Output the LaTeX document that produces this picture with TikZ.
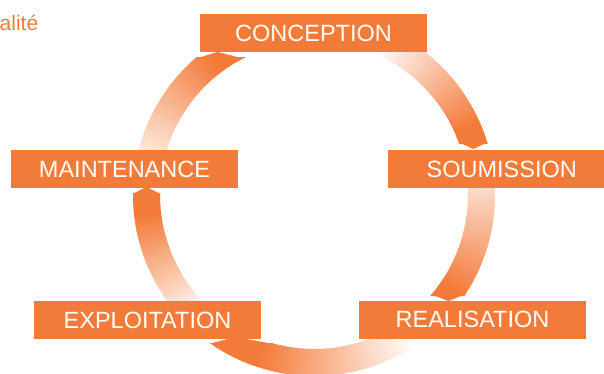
\documentclass[tikz,border=0pt]{standalone}
\usepackage{fontspec}
\setmainfont{Liberation Sans}
\definecolor{cyc}{RGB}{243,123,58}
\tikzset{
  stagebox/.style={fill=cyc, text=white, minimum width=227pt, minimum height=38pt,
    inner sep=0pt, text height=16.8pt, text depth=0pt, font=\fontsize{23.5}{23.5}\selectfont},
  tipfill/.style={fill=cyc},
}
% Ring band (radii 154pt to 181pt) from angle #1 to angle #4, shaded from
% white (at angle #2) to full orange (at angle #3), built from thin sectors.
\newcommand{\cyclearc}[4]{%
  \foreach \k in {0,...,71}{%
    \pgfmathsetmacro{\ta}{#1+(#4-(#1))*\k/72}%
    \pgfmathsetmacro{\tb}{#1+(#4-(#1))*(\k+1.5)/72}%
    \pgfmathsetmacro{\tm}{#1+(#4-(#1))*(\k+0.5)/72}%
    \pgfmathtruncatemacro{\pc}{max(0,min(100,100*(\tm-(#2))/((#3)-(#2))))}%
    \fill[cyc!\pc!white] (\ta:154pt) arc[start angle=\ta, end angle=\tb, radius=154pt]
      -- (\tb:181pt) arc[start angle=\tb, end angle=\ta, radius=181pt] -- cycle;
  }%
}
\begin{document}
\begin{tikzpicture}[x=1pt,y=1pt]
\useasboundingbox (0,0) rectangle (604,373);
\coordinate (ring) at (314,178);

% conception -> soumission
\begin{scope}
  \clip (300,230) rectangle (620,380);
  \begin{scope}[shift={(ring)}]\cyclearc{76}{66}{24}{14}\end{scope}
\end{scope}
\fill[tipfill] (459,230.6) -- (473.2,224) -- (487.4,230.6) -- cycle;

% soumission -> realisation
\begin{scope}
  \clip (314,78) rectangle (620,380);
  \begin{scope}[shift={(ring)}]\cyclearc{8.5}{16}{-34}{-43}\end{scope}
\end{scope}
\fill[tipfill] (431.1,78.6) -- (448.4,72) -- (464.9,78.6) -- cycle;

% realisation -> exploitation
\begin{scope}
  \clip (-10,-20) -- (-10,30) -- (314,30) -- (314,380) -- (620,380) -- (620,-20) -- cycle;
  \begin{scope}[shift={(ring)}]\cyclearc{-48}{-55}{-108}{-128}\end{scope}
\end{scope}
\fill[tipfill] (271.4,29.4) -- (235.6,36) -- (209.8,29.4) -- cycle;

% exploitation -> maintenance
\begin{scope}
  \clip (-10,-20) rectangle (314,180);
  \begin{scope}[shift={(ring)}]\cyclearc{228}{227}{187}{175}\end{scope}
\end{scope}
\fill[tipfill] (160,179.4) -- (146.5,186) -- (133,179.4) -- cycle;

% maintenance -> conception
\begin{scope}
  \clip (-10,-20) rectangle (314,315);
  \begin{scope}[shift={(ring)}]\cyclearc{171.5}{174}{127}{110}\end{scope}
\end{scope}
\fill[tipfill] (243.7,314.4) -- (217.6,321) -- (195.7,314.4) -- cycle;

% stages
\node[stagebox] (con) at (313.5,340) {CONCEPTION};
\node[stagebox] (sou) at (501.7,204) {SOUMISSION};
\node[stagebox] (rea) at (472.5,53.5) {REALISATION};
\node[stagebox] (exp) at (147.5,53) {EXPLOITATION};
\node[stagebox] (mai) at (124.5,204) {MAINTENANCE};

% title fragment
\node[anchor=base west, inner sep=0pt, text=cyc, font=\fontsize{21}{21}\selectfont] (ttl) at (-0.5,342) {alité};
\end{tikzpicture}
\end{document}
